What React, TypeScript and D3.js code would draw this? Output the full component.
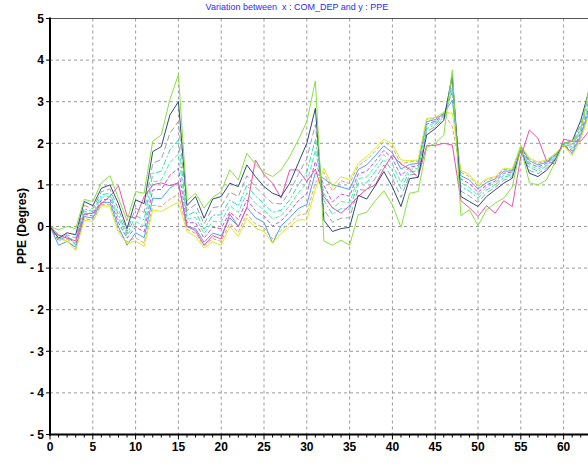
import React from "react";
import * as d3 from "d3";

const W = 588;
const H = 472;

const xTicks = [0, 5, 10, 15, 20, 25, 30, 35, 40, 45, 50, 55, 60];
const yTicks = [5, 4, 3, 2, 1, 0, -1, -2, -3, -4, -5];
const title = "Variation between  x : COM_DEP and y : PPE";
const yTitle = "PPE (Degres)";

const green = [0, -0.08, 0.0, -0.05, 0.65, 0.6, 1.05, 1.22, 0.68, 0.14, 0.84, 0.8, 2.05, 2.2, 3.05, 3.65, 0.62, 0.8, 0.44, 0.7, 0.84, 1.36, 1.12, 1.76, 1.5, 1.3, 1.2, 1.36, 1.68, 2.08, 2.52, 3.5, -0.35, -0.45, -0.33, -0.45, 0.28, 0.34, 0.62, 0.86, 0.52, -0.02, 0.8, 0.84, 1.9, 2.0, 2.2, 3.76, 0.26, 0.4, 0.02, 0.4, 0.56, 0.68, 0.95, 1.9, 1.05, 1.0, 1.12, 1.55, 2.0, 2.05, 2.3, 3.35];
const navy = [0, -0.28, -0.15, -0.2, 0.6, 0.5, 0.92, 1.0, 0.55, -0.05, 0.64, 0.55, 1.8, 1.92, 2.68, 3.0, 0.5, 0.72, 0.2, 0.66, 0.72, 1.04, 0.96, 1.48, 1.2, 0.96, 0.8, 0.72, 1.04, 1.52, 2.0, 2.84, 0.15, -0.12, -0.05, -0.02, 0.75, 0.66, 0.98, 1.32, 0.95, 0.48, 1.15, 1.18, 2.2, 2.35, 2.55, 3.65, 0.72, 0.6, 0.48, 0.72, 0.88, 1.04, 1.16, 1.85, 1.28, 1.2, 1.35, 1.6, 2.0, 2.05, 2.55, 3.3];
const grayS = [0, -0.22, -0.2, -0.28, 0.51, 0.42, 0.84, 0.9, 0.41, -0.12, 0.44, 0.34, 1.52, 1.61, 2.24, 2.52, 0.38, 0.53, 0.06, 0.45, 0.49, 0.83, 0.72, 1.22, 0.95, 0.74, 0.56, 0.54, 0.83, 1.25, 1.63, 2.45, 0.4, 0.1, 0.2, 0.21, 0.9, 0.86, 1.16, 1.48, 1.16, 0.7, 1.24, 1.26, 2.28, 2.4, 2.59, 3.55, 0.85, 0.73, 0.58, 0.81, 0.94, 1.11, 1.2, 1.87, 1.35, 1.27, 1.4, 1.63, 1.99, 1.98, 2.46, 3.18];
const cyanS = [0, -0.3, -0.25, -0.35, 0.43, 0.36, 0.76, 0.8, 0.28, -0.18, 0.26, 0.16, 1.27, 1.33, 1.84, 2.08, 0.26, 0.36, -0.07, 0.27, 0.28, 0.64, 0.5, 0.99, 0.73, 0.55, 0.34, 0.39, 0.64, 1.0, 1.3, 2.1, 0.63, 0.29, 0.43, 0.41, 1.04, 1.05, 1.32, 1.62, 1.34, 0.91, 1.31, 1.34, 2.35, 2.45, 2.63, 3.42, 0.96, 0.85, 0.68, 0.88, 1.0, 1.18, 1.24, 1.89, 1.42, 1.33, 1.45, 1.66, 1.98, 1.92, 2.38, 3.07];
const mintS = [0, -0.25, -0.3, -0.4, 0.37, 0.3, 0.7, 0.73, 0.19, -0.23, 0.12, 0.01, 1.07, 1.11, 1.54, 1.74, 0.18, 0.22, -0.17, 0.12, 0.11, 0.5, 0.34, 0.81, 0.56, 0.4, 0.18, 0.26, 0.5, 0.81, 1.04, 1.83, 0.8, 0.44, 0.6, 0.57, 1.15, 1.19, 1.45, 1.73, 1.49, 1.06, 1.37, 1.4, 2.41, 2.49, 2.65, 3.3, 1.05, 0.94, 0.75, 0.94, 1.05, 1.23, 1.27, 1.9, 1.47, 1.38, 1.48, 1.68, 1.97, 1.87, 2.32, 2.99];
const violetS = [0, -0.35, -0.22, -0.45, 0.3, 0.25, 0.64, 0.66, 0.09, -0.28, -0.01, -0.13, 0.88, 0.89, 1.23, 1.4, 0.09, 0.09, -0.28, -0.02, -0.05, 0.35, 0.17, 0.64, 0.38, 0.25, 0.01, 0.14, 0.35, 0.62, 0.79, 1.56, 0.98, 0.59, 0.78, 0.73, 1.26, 1.33, 1.57, 1.83, 1.63, 1.22, 1.43, 1.46, 2.46, 2.53, 2.68, 3.24, 1.14, 1.03, 0.82, 1.0, 1.09, 1.28, 1.31, 1.92, 1.52, 1.43, 1.52, 1.7, 1.97, 1.82, 2.25, 2.9];
const blueS = [0, -0.45, -0.36, -0.5, 0.24, 0.2, 0.58, 0.58, -0.01, -0.45, -0.15, -0.27, 0.68, 0.67, 0.92, 1.06, 0.0, -0.05, -0.38, -0.16, -0.22, 0.21, 0.0, 0.46, 0.21, 0.1, -0.4, 0.02, 0.21, 0.43, 0.53, 1.29, 1.15, 1.0, 0.95, 0.89, 1.37, 1.48, 1.7, 1.94, 1.77, 1.38, 1.49, 1.52, 2.52, 2.57, 2.71, 3.04, 1.22, 1.12, 0.9, 1.06, 1.14, 1.33, 1.34, 1.93, 1.58, 1.48, 1.55, 1.72, 1.96, 1.77, 2.19, 2.82];
const orangeS = [0, -0.32, -0.3, -0.55, 0.19, 0.15, 0.53, 0.52, -0.09, -0.37, -0.27, -0.4, 0.51, 0.48, 0.66, 0.77, -0.07, -0.16, -0.46, -0.29, -0.36, 0.08, -0.14, 0.3, 0.06, -0.03, -0.3, -0.09, 0.08, 0.27, 0.31, 1.06, 1.3, 0.85, 1.1, 1.03, 1.46, 1.6, 1.81, 2.04, 1.9, 1.51, 1.55, 1.57, 2.57, 2.6, 2.73, 2.4, 1.3, 1.2, 0.96, 1.12, 1.17, 1.37, 1.36, 1.94, 1.62, 1.52, 1.58, 1.74, 1.95, 1.73, 2.14, 2.75];
const yellowS = [0, -0.3, -0.35, -0.58, 0.15, 0.12, 0.5, 0.48, -0.15, -0.4, -0.35, -0.48, 0.4, 0.36, 0.48, 0.58, -0.12, -0.24, -0.52, -0.37, -0.45, 0.0, -0.24, 0.2, -0.04, -0.12, -0.4, -0.16, 0.0, 0.16, 0.16, 0.9, 1.4, 0.96, 1.2, 1.12, 1.52, 1.68, 1.88, 2.1, 1.98, 1.6, 1.58, 1.6, 2.6, 2.62, 2.75, 2.72, 1.35, 1.25, 1.0, 1.15, 1.2, 1.4, 1.38, 1.95, 1.65, 1.55, 1.6, 1.75, 1.95, 1.7, 2.1, 2.7];
const pinkS = [0, -0.2, -0.28, -0.35, 0.3, 0.32, 0.55, 0.72, 0.98, 0.25, 0.2, 0.72, 1.0, 1.05, 0.98, 1.05, 0.0, -0.1, -0.45, -0.22, -0.3, 0.3, 0.0, 0.45, 1.6, 1.25, 1.04, 0.68, 1.36, 1.36, 1.08, 1.38, 0.72, 0.45, 0.32, 0.5, 0.72, 0.9, 1.0, 1.4, 1.72, 1.5, 1.38, 1.18, 1.95, 1.95, 2.0, 1.96, 0.62, 0.45, 0.24, 0.5, 0.32, 0.62, 0.48, 1.68, 2.32, 2.12, 1.58, 1.5, 2.1, 2.05, 2.05, 2.3];

const series = [
  { name: "orange", values: orangeS, color: "#e8a070", dash: "4,2" },
  { name: "blue", values: blueS, color: "#4aa0ff", dash: "" },
  { name: "violet", values: violetS, color: "#c050f0", dash: "4,2" },
  { name: "mint", values: mintS, color: "#50f0a0", dash: "5,2" },
  { name: "cyan", values: cyanS, color: "#30d8c8", dash: "6,2,2,2" },
  { name: "gray", values: grayS, color: "#a0a0a0", dash: "6,3" },
  { name: "yellow", values: yellowS, color: "#d0f020", dash: "" },
  { name: "pink", values: pinkS, color: "#f050a8", dash: "" },
  { name: "navy", values: navy, color: "#2c4a7a", dash: "" },
  { name: "green", values: green, color: "#88e040", dash: "" },
];

const left = 50;
const top = 18.5;
const bottom = 434.5;
const xScale = d3.scaleLinear().domain([0, 63]).range([left, 589.3]);
const yScale = d3.scaleLinear().domain([-5, 5]).range([bottom, top]);

const fmtY = (v: number) => (v < 0 ? "- " + Math.abs(v) : String(v));

export default function App() {
  const line = d3
    .line<number>()
    .x((_, i) => xScale(i))
    .y((d) => yScale(d));
  const minorX = d3.range(0, 64);
  return (
    <svg
      width={W}
      height={H}
      style={{ position: "absolute", left: 0, top: 0, background: "#fff" }}
      fontFamily="'Liberation Sans', Arial, sans-serif"
    >
      <rect x={0} y={0} width={W} height={H} fill="#fff" />
      <text x={297} y={10} textAnchor="middle" fontSize={9} fill="#2a2aff" style={{ whiteSpace: "pre" }}>
        {title}
      </text>
      {xTicks.filter((t) => t > 0).map((t) => (
        <line key={"gx" + t} x1={xScale(t)} x2={xScale(t)} y1={top} y2={bottom} stroke="#999" strokeDasharray="3,3" strokeWidth={1} />
      ))}
      {yTicks.filter((t) => t > -5 && t < 5).map((t) => (
        <line key={"gy" + t} x1={left} x2={W} y1={yScale(t)} y2={yScale(t)} stroke="#999" strokeDasharray="3,3" strokeWidth={1} />
      ))}
      <line x1={left} x2={W} y1={top} y2={top} stroke="#555" strokeWidth={1} />
      <defs>
        <clipPath id="plotclip">
          <rect x={left} y={top} width={W - left} height={bottom - top} />
        </clipPath>
      </defs>
      <g clipPath="url(#plotclip)">
        {series.map((s) => (
          <path key={s.name} d={line(s.values) || ""} fill="none" stroke={s.color} strokeWidth={1} strokeDasharray={s.dash || undefined} />
        ))}
      </g>
      <line x1={left} x2={left} y1={top - 1} y2={bottom + 1} stroke="#000" strokeWidth={2} />
      <line x1={left - 1} x2={W} y1={bottom} y2={bottom} stroke="#000" strokeWidth={2} />
      {yTicks.map((t) => (
        <g key={"yt" + t}>
          <line x1={left - 4} x2={left} y1={yScale(t)} y2={yScale(t)} stroke="#000" />
          <text x={44} y={yScale(t)} dy="0.35em" textAnchor="end" fontSize={12} fontWeight="bold" fill="#000" style={{ whiteSpace: "pre" }}>
            {fmtY(t)}
          </text>
        </g>
      ))}
      {minorX.map((t) => (
        <line key={"mx" + t} x1={xScale(t)} x2={xScale(t)} y1={bottom} y2={bottom + (t % 5 === 0 ? 5 : 3)} stroke="#000" />
      ))}
      {xTicks.map((t) => (
        <text key={"xt" + t} x={xScale(t)} y={451} textAnchor="middle" fontSize={12} fontWeight="bold" fill="#000">
          {t}
        </text>
      ))}
      <text transform={`translate(26,226) rotate(-90)`} textAnchor="middle" fontSize={12} fontWeight="bold" fill="#000">
        {yTitle}
      </text>
    </svg>
  );
}
